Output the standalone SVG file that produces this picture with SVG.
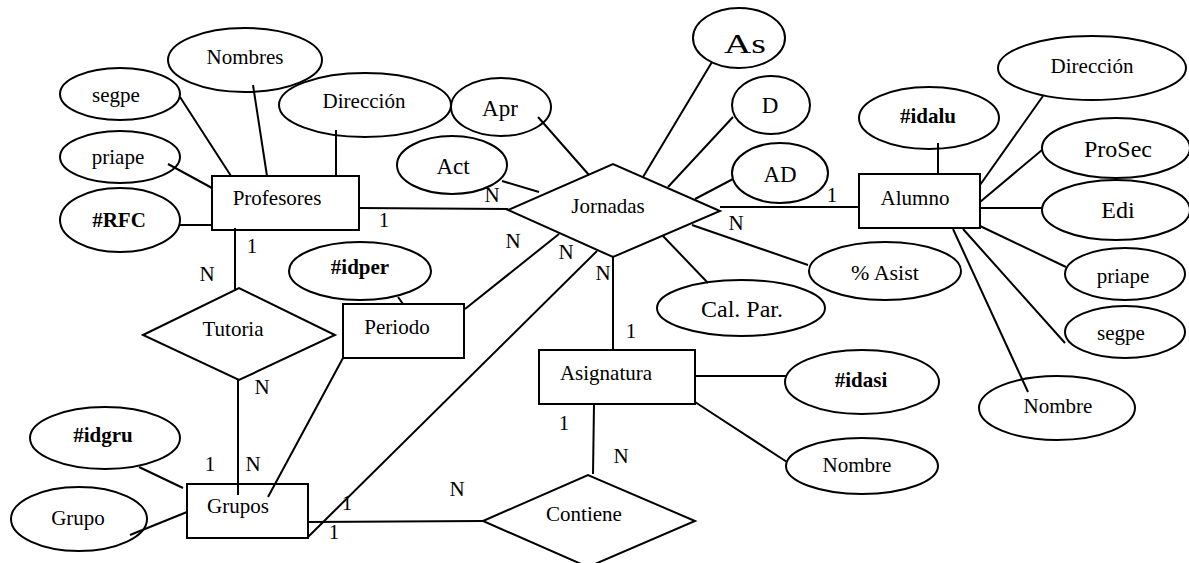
<svg xmlns="http://www.w3.org/2000/svg" width="1189" height="563" viewBox="0 0 1189 563">
<style>
.s{fill:none;stroke:#000;stroke-width:2}
text{font-family:"Liberation Serif","Times New Roman",serif;font-size:21px;text-anchor:middle;fill:#000}
.b{font-weight:bold}
.m{font-size:23px}
.L{font-size:24px}
.c line{stroke:#000;stroke-width:2}
</style>
<rect width="1189" height="563" fill="#fff"/>
<g id="profesores"><rect class="s" x="212" y="176" width="147" height="54"/><text x="277" y="205">Profesores</text></g>
<g id="alumno"><rect class="s" x="859" y="174" width="121" height="54"/><text x="915" y="205">Alumno</text></g>
<g id="periodo"><rect class="s" x="343" y="304" width="121" height="54"/><text x="397" y="334">Periodo</text></g>
<g id="asignatura"><rect class="s" x="539" y="350" width="156" height="54"/><text x="606" y="380">Asignatura</text></g>
<g id="grupos"><rect class="s" x="187" y="484" width="121" height="54"/><text x="238" y="513">Grupos</text></g>
<g id="jornadas"><polygon class="s" points="508,210 613,164 720,211 613,257"/><text x="608" y="213">Jornadas</text></g>
<g id="tutoria"><polygon class="s" points="143,335 239,288 335,335 239,380"/><text x="233" y="336">Tutoria</text></g>
<g id="contiene"><polygon class="s" points="483,521 588,475 695,521 588,567"/><text x="584" y="521">Contiene</text></g>
<g id="a-nombres"><ellipse class="s" cx="245" cy="60" rx="77" ry="32"/><text x="245" y="64">Nombres</text></g>
<g id="a-segpe-p"><ellipse class="s" cx="120" cy="94" rx="60" ry="26"/><text x="116" y="102">segpe</text></g>
<g id="a-direccion-p"><ellipse class="s" cx="365" cy="105" rx="86" ry="32"/><text x="364" y="108">Dirección</text></g>
<g id="a-priape-p"><ellipse class="s" cx="120" cy="157" rx="60" ry="26"/><text x="118" y="164">priape</text></g>
<g id="a-rfc"><ellipse class="s" cx="120" cy="220" rx="60" ry="32"/><text class="b" x="119" y="227">#RFC</text></g>
<g id="a-as"><ellipse class="s" cx="739" cy="38" rx="46" ry="30"/><text x="745" y="53" style="font-size:27px" textLength="42" lengthAdjust="spacingAndGlyphs">As</text></g>
<g id="a-d"><ellipse class="s" cx="771" cy="105" rx="39" ry="29"/><text class="m" x="770" y="113">D</text></g>
<g id="a-ad"><ellipse class="s" cx="780" cy="173" rx="48" ry="30"/><text class="m" x="780" y="182">AD</text></g>
<g id="a-apr"><ellipse class="s" cx="501" cy="107" rx="50" ry="29"/><text class="m" x="500" y="116">Apr</text></g>
<g id="a-act"><ellipse class="s" cx="452" cy="165" rx="55" ry="29"/><text class="m" x="453" y="174">Act</text></g>
<g id="a-direccion-a"><ellipse class="s" cx="1092" cy="68" rx="94" ry="32"/><text x="1092" y="73">Dirección</text></g>
<g id="a-idalu"><ellipse class="s" cx="929" cy="118" rx="70" ry="31"/><text class="b" x="928" y="123">#idalu</text></g>
<g id="a-prosec"><ellipse class="s" cx="1116" cy="148" rx="74" ry="30"/><text class="L" x="1118" y="157">ProSec</text></g>
<g id="a-edi"><ellipse class="s" cx="1116" cy="210" rx="74" ry="30"/><text class="L" x="1118" y="218">Edi</text></g>
<g id="a-asist"><ellipse class="s" cx="885" cy="271" rx="76" ry="29"/><text x="885" y="280" style="font-size:22px">% Asist</text></g>
<g id="a-priape-a"><ellipse class="s" cx="1125" cy="274" rx="60" ry="26"/><text x="1123" y="283">priape</text></g>
<g id="a-segpe-a"><ellipse class="s" cx="1125" cy="332" rx="60" ry="26"/><text x="1121" y="340">segpe</text></g>
<g id="a-nombre-a"><ellipse class="s" cx="1057" cy="408" rx="78" ry="32"/><text x="1058" y="413">Nombre</text></g>
<g id="a-calpar"><ellipse class="s" cx="741" cy="308" rx="84" ry="28"/><text class="L" x="742" y="317">Cal. Par.</text></g>
<g id="a-idasi"><ellipse class="s" cx="862" cy="382" rx="77" ry="32"/><text class="b" x="861" y="387">#idasi</text></g>
<g id="a-nombre-s"><ellipse class="s" cx="862" cy="466" rx="76" ry="28"/><text x="857" y="472">Nombre</text></g>
<g id="a-idper"><ellipse class="s" cx="360" cy="271" rx="71" ry="29"/><text class="b" x="360" y="274">#idper</text></g>
<g id="a-idgru"><ellipse class="s" cx="105" cy="438" rx="75" ry="31"/><text class="b" x="103" y="442">#idgru</text></g>
<g id="a-grupo"><ellipse class="s" cx="79" cy="519" rx="68" ry="32"/><text x="78" y="525">Grupo</text></g>
<g id="connectors" class="c">
<line x1="359" y1="208" x2="508" y2="209"/>
<line x1="235" y1="228" x2="235" y2="291"/>
<line x1="238" y1="380" x2="238" y2="495"/>
<line x1="720" y1="207" x2="859" y2="207"/>
<line x1="613" y1="257" x2="613" y2="350"/>
<line x1="559" y1="234" x2="465" y2="309"/>
<line x1="597" y1="251" x2="308" y2="537"/>
<line x1="343" y1="358" x2="268" y2="497"/>
<line x1="308" y1="522" x2="483" y2="521"/>
<line x1="594" y1="404" x2="593" y2="474"/>
<line x1="180" y1="97" x2="231" y2="176"/>
<line x1="253" y1="85" x2="267" y2="176"/>
<line x1="336" y1="130" x2="336" y2="176"/>
<line x1="168" y1="164" x2="212" y2="188"/>
<line x1="180" y1="225" x2="212" y2="225"/>
<line x1="538" y1="117" x2="589" y2="175"/>
<line x1="502" y1="181" x2="539" y2="192"/>
<line x1="712" y1="62" x2="643" y2="177"/>
<line x1="733" y1="117" x2="668" y2="187"/>
<line x1="733" y1="179" x2="695" y2="199"/>
<line x1="692" y1="225" x2="808" y2="265"/>
<line x1="663" y1="236" x2="708" y2="283"/>
<line x1="938" y1="143" x2="938" y2="174"/>
<line x1="980" y1="185" x2="1043" y2="96"/>
<line x1="980" y1="202" x2="1042" y2="150"/>
<line x1="980" y1="208" x2="1042" y2="208"/>
<line x1="980" y1="226" x2="1066" y2="267"/>
<line x1="963" y1="229" x2="1065" y2="343"/>
<line x1="953" y1="229" x2="1028" y2="392"/>
<line x1="695" y1="376" x2="787" y2="376"/>
<line x1="695" y1="402" x2="787" y2="462"/>
<line x1="398" y1="297" x2="403" y2="304"/>
<line x1="139" y1="467" x2="183" y2="488"/>
<line x1="130" y1="535" x2="187" y2="512"/>
</g>
<g id="cardinalities">
<text x="384" y="227">1</text>
<text x="252" y="253">1</text>
<text x="207" y="281">N</text>
<text x="492" y="202">N</text>
<text x="513" y="248">N</text>
<text x="566" y="259">N</text>
<text x="603" y="280">N</text>
<text x="736" y="230">N</text>
<text x="832" y="202">1</text>
<text x="631" y="338">1</text>
<text x="564" y="430">1</text>
<text x="621" y="463">N</text>
<text x="457" y="496">N</text>
<text x="262" y="394">N</text>
<text x="210" y="471">1</text>
<text x="253" y="471">N</text>
<text x="347" y="510">1</text>
<text x="334" y="539">1</text>
</g>
</svg>
